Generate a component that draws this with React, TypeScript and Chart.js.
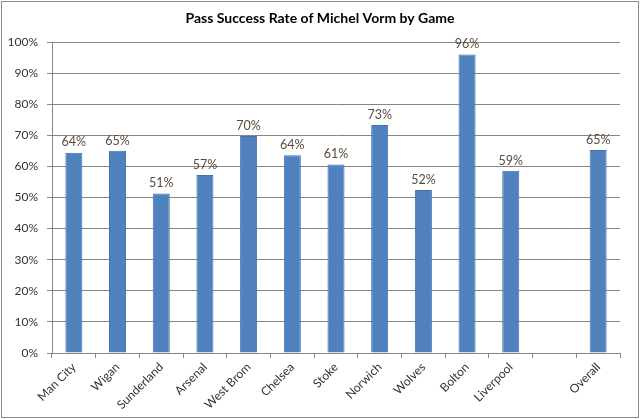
import { useEffect, useRef } from "react";
import { Chart, registerables } from "chart.js";

Chart.register(...registerables);

const games = ["Man City", "Wigan", "Sunderland", "Arsenal", "West Brom", "Chelsea", "Stoke", "Norwich", "Wolves", "Bolton", "Liverpool", "", "Overall"];
const passRate = [64.4, 65, 51.3, 57.2, 69.8, 63.6, 60.6, 73.3, 52.4, 96, 58.6, null, 65.3];
const rateLabels = ["64%", "65%", "51%", "57%", "70%", "64%", "61%", "73%", "52%", "96%", "59%", "", "65%"];
const yTicks = [0, 10, 20, 30, 40, 50, 60, 70, 80, 90, 100];
const chartTitle = "Pass Success Rate of Michel Vorm by Game";

const FONT = "Lato, 'Open Sans', sans-serif";

// title, value labels above the bars, outer frame
const extras = {
  id: "extras",
  afterDatasetsDraw(chart) {
    const { ctx } = chart;
    const meta = chart.getDatasetMeta(0);
    ctx.save();
    ctx.font = `12.5px ${FONT}`;
    ctx.fillStyle = "#5a4b3c";
    ctx.textAlign = "center";
    ctx.textBaseline = "bottom";
    meta.data.forEach((bar, i) => {
      if (passRate[i] == null) return;
      ctx.fillText(rateLabels[i], bar.x, bar.y - 4);
    });
    ctx.restore();
  },
  afterDraw(chart) {
    const { ctx } = chart;
    ctx.save();
    ctx.font = `bold 14px ${FONT}`;
    ctx.fillStyle = "#000";
    ctx.textAlign = "center";
    ctx.textBaseline = "middle";
    ctx.fillText(chartTitle, chart.width / 2, 18);
    ctx.strokeStyle = "#8c8c8c";
    ctx.lineWidth = 1;
    ctx.strokeRect(1.5, 1.5, chart.width - 3, chart.height - 3);
    ctx.restore();
  },
};

const PassChart = () => {
  const canvasRef = useRef(null);
  const chartRef = useRef(null);

  useEffect(() => {
    document.body.style.margin = "0";
    if (chartRef.current) chartRef.current.destroy();

    chartRef.current = new Chart(canvasRef.current, {
      type: "bar",
      data: {
        labels: games,
        datasets: [
          {
            data: passRate,
            backgroundColor: "#4f81bd",
            borderColor: "#3f72ae",
            borderWidth: 1,
            barPercentage: 0.39,
            categoryPercentage: 1,
          },
        ],
      },
      options: {
        animation: false,
        responsive: false,
        maintainAspectRatio: false,
        layout: { padding: { left: 0, right: 20, top: 42, bottom: 0 } },
        plugins: {
          legend: { display: false },
          tooltip: { enabled: false },
          title: { display: false },
        },
        scales: {
          x: {
            grid: {
              display: true,
              drawOnChartArea: false,
              drawTicks: true,
              tickLength: 5,
              color: "#868686",
              offset: true,
            },
            border: { color: "#868686" },
            ticks: {
              color: "#333",
              font: { family: FONT, size: 12 },
              minRotation: 45,
              maxRotation: 45,
              autoSkip: false,
              padding: 2,
            },
            afterFit(scale) {
              scale.height = 66;
            },
          },
          y: {
            min: 0,
            max: 100,
            afterBuildTicks(scale) {
              scale.ticks = yTicks.map((v) => ({ value: v }));
            },
            grid: { color: "#868686", tickLength: 5 },
            border: { color: "#868686" },
            ticks: {
              color: "#333",
              font: { family: FONT, size: 12 },
              padding: 9,
              callback: (v) => v + "%",
            },
            afterFit(scale) {
              scale.width = 52;
            },
          },
        },
      },
      plugins: [extras],
    });

    return () => {
      if (chartRef.current) chartRef.current.destroy();
    };
  }, []);

  return (
    <div style={{ width: 640, height: 419 }}>
      <canvas ref={canvasRef} width={640} height={419} />
    </div>
  );
};

export default function App() {
  return <PassChart />;
}
